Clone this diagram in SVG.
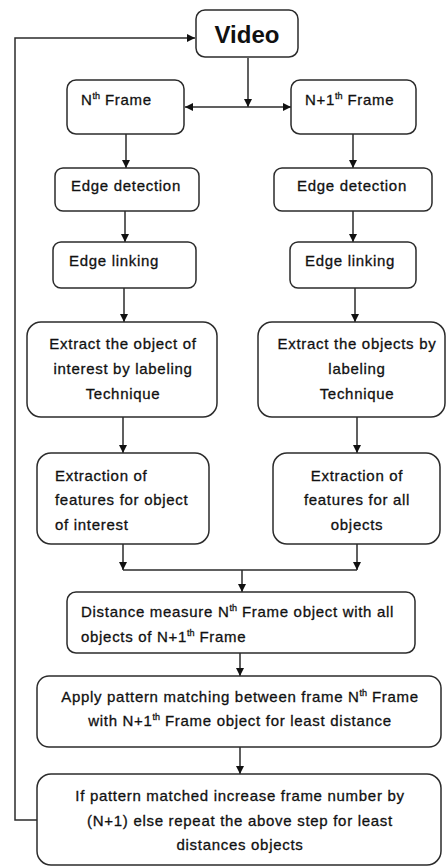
<svg xmlns="http://www.w3.org/2000/svg" width="446" height="867" viewBox="0 0 446 867">
<style>
.box{fill:#fff;stroke:#2b2b2b;stroke-width:1.5}
.t{font-family:"Liberation Sans",Arial,sans-serif;font-size:15px;fill:#111;stroke:#111;stroke-width:0.3;letter-spacing:0.7px}
.c{text-anchor:middle}
.sup{font-size:9px;letter-spacing:0}
.ln{fill:none;stroke:#2b2b2b;stroke-width:1.5}
</style>
<defs>
<marker id="ahb" viewBox="0 0 10 10" refX="10" refY="5" markerWidth="8" markerHeight="8" markerUnits="userSpaceOnUse" orient="auto"><path d="M0,0 L10,5 L0,10 Z" fill="#111"/></marker>
</defs>
<rect width="446" height="867" fill="#fff"/>
<g id="connectors">
<path class="ln" d="M248,58 V107" marker-end="url(#ahb)"/>
<path class="ln" d="M248,107 H185" marker-end="url(#ahb)"/>
<path class="ln" d="M248,107 H291" marker-end="url(#ahb)"/>
<path class="ln" d="M126,134 V168" marker-end="url(#ahb)"/>
<path class="ln" d="M353,134 V168" marker-end="url(#ahb)"/>
<path class="ln" d="M125,211 V242" marker-end="url(#ahb)"/>
<path class="ln" d="M353,211 V242" marker-end="url(#ahb)"/>
<path class="ln" d="M124,288 V322" marker-end="url(#ahb)"/>
<path class="ln" d="M355,288 V322" marker-end="url(#ahb)"/>
<path class="ln" d="M123,417 V453" marker-end="url(#ahb)"/>
<path class="ln" d="M357,417 V453" marker-end="url(#ahb)"/>
<path class="ln" d="M123,544 V570" marker-end="url(#ahb)"/>
<path class="ln" d="M357,544 V570" marker-end="url(#ahb)"/>
<path class="ln" d="M123,570 H357"/>
<path class="ln" d="M242,570 V592" marker-end="url(#ahb)"/>
<path class="ln" d="M240,653 V676" marker-end="url(#ahb)"/>
<path class="ln" d="M240,747 V774" marker-end="url(#ahb)"/>
<path class="ln" d="M37,820 H15 V38 H195" marker-end="url(#ahb)"/>
</g>
<g id="video">
<rect class="box" x="196" y="10" width="102" height="47" rx="9"/>
<text class="t c" x="247" y="43" style="font-size:24px;font-weight:bold;letter-spacing:0;stroke-width:0">Video</text>
</g>
<g id="nframe">
<rect class="box" x="67" y="80" width="117" height="54" rx="9"/>
<text class="t" x="81" y="105">N<tspan class="sup" dy="-6">th</tspan><tspan dy="6"> Frame</tspan></text>
</g>
<g id="n1frame">
<rect class="box" x="291" y="80" width="125" height="54" rx="9"/>
<text class="t" x="305" y="105">N+1<tspan class="sup" dy="-6">th</tspan><tspan dy="6"> Frame</tspan></text>
</g>
<g id="edgedet-left">
<rect class="box" x="55" y="168" width="144" height="43" rx="8"/>
<text class="t c" x="126" y="191">Edge detection</text>
</g>
<g id="edgedet-right">
<rect class="box" x="274" y="168" width="158" height="43" rx="8"/>
<text class="t c" x="352" y="191">Edge detection</text>
</g>
<g id="edgelink-left">
<rect class="box" x="53" y="242" width="143" height="46" rx="8"/>
<text class="t" x="69" y="266">Edge linking</text>
</g>
<g id="edgelink-right">
<rect class="box" x="290" y="242" width="126" height="46" rx="8"/>
<text class="t" x="305" y="266">Edge linking</text>
</g>
<g id="extract-left">
<rect class="box" x="27" y="322" width="190" height="95" rx="14"/>
<text class="t c" x="123" y="349">Extract the object of</text>
<text class="t c" x="123" y="374">interest by labeling</text>
<text class="t c" x="123" y="399">Technique</text>
</g>
<g id="extract-right">
<rect class="box" x="258" y="322" width="187" height="95" rx="14"/>
<text class="t c" x="357" y="349">Extract the objects by</text>
<text class="t c" x="357" y="374">labeling</text>
<text class="t c" x="357" y="399">Technique</text>
</g>
<g id="features-left">
<rect class="box" x="37" y="453" width="172" height="91" rx="14"/>
<text class="t" x="55" y="481">Extraction of</text>
<text class="t" x="55" y="505">features for object</text>
<text class="t" x="55" y="530">of interest</text>
</g>
<g id="features-right">
<rect class="box" x="273" y="453" width="167" height="91" rx="14"/>
<text class="t c" x="357" y="481">Extraction of</text>
<text class="t c" x="357" y="505">features for all</text>
<text class="t c" x="357" y="530">objects</text>
</g>
<g id="distance">
<rect class="box" x="67" y="592" width="348" height="61" rx="9"/>
<text class="t" x="81" y="617">Distance measure N<tspan class="sup" dy="-6">th</tspan><tspan dy="6"> Frame object with all</tspan></text>
<text class="t" x="81" y="642">objects of N+1<tspan class="sup" dy="-6">th</tspan><tspan dy="6"> Frame</tspan></text>
</g>
<g id="pattern">
<rect class="box" x="37" y="676" width="404" height="71" rx="12"/>
<text class="t c" x="240" y="702">Apply pattern matching between frame N<tspan class="sup" dy="-6">th</tspan><tspan dy="6"> Frame</tspan></text>
<text class="t c" x="240" y="726">with N+1<tspan class="sup" dy="-6">th</tspan><tspan dy="6"> Frame object for least distance</tspan></text>
</g>
<g id="decision">
<rect class="box" x="37" y="774" width="404" height="91" rx="14"/>
<text class="t c" x="240" y="801">If pattern matched increase frame number by</text>
<text class="t c" x="240" y="826">(N+1) else repeat the above step for least</text>
<text class="t c" x="240" y="850">distances objects</text>
</g>
</svg>
